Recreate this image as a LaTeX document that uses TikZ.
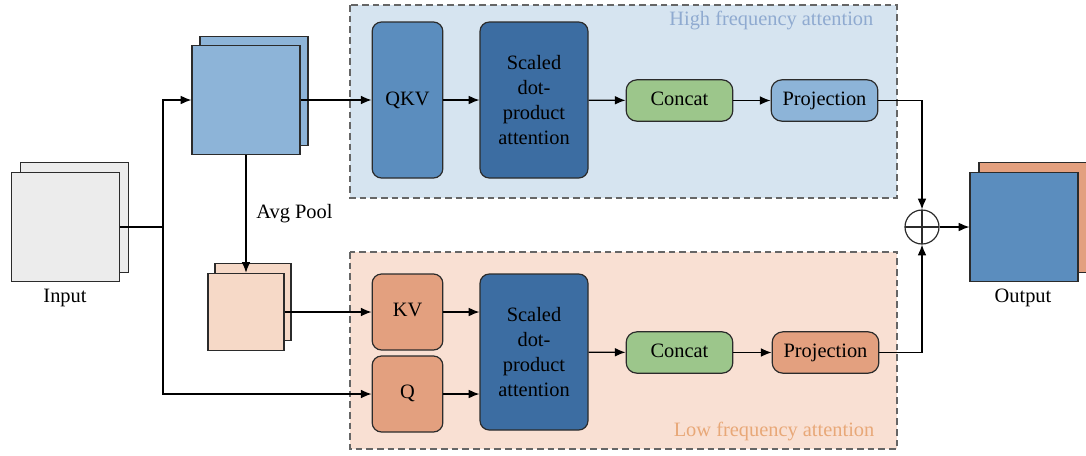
\documentclass[tikz,border=0pt]{standalone}
\usepackage{fontspec}
\setmainfont{Liberation Serif}
\usetikzlibrary{arrows.meta}

\definecolor{inGray}{HTML}{ECECEC}
\definecolor{hiLight}{HTML}{8DB4D8}
\definecolor{hiMid}{HTML}{5B8DBE}
\definecolor{hiDark}{HTML}{3C6DA2}
\definecolor{hiRegion}{HTML}{D6E4F0}
\definecolor{hiText}{HTML}{8FAAD0}
\definecolor{loMid}{HTML}{E3A07F}
\definecolor{loLight}{HTML}{F6D9C7}
\definecolor{loRegion}{HTML}{F9E0D3}
\definecolor{loText}{HTML}{E8A878}
\definecolor{catGreen}{HTML}{9CC68B}
\definecolor{edgeGray}{HTML}{2B2B2B}

\begin{document}
\begin{tikzpicture}[
    x=0.75pt, y=-0.75pt,
    font=\fontsize{15.3}{18.75}\selectfont,
    fmap/.style={draw=edgeGray, line width=0.9pt, minimum width=81pt,
        minimum height=82pt, inner sep=0pt},
    small map/.style={fmap, minimum width=57pt, minimum height=58pt},
    block/.style={draw=edgeGray, line width=0.9pt, rounded corners=7pt,
        align=center, inner sep=0pt},
    tall/.style={block, minimum width=53pt, minimum height=117pt},
    wide/.style={block, minimum width=81pt, minimum height=117pt},
    pill/.style={block, rounded corners=8pt, minimum width=80pt, minimum height=31pt,
        text height=1.5ex, text depth=0pt},
    half/.style={block, minimum width=53pt, minimum height=57pt,
        text height=1.5ex, text depth=0pt},
    region/.style={draw=gray!80!black, line width=1pt, dash pattern=on 5pt off 3pt},
    link/.style={line width=0.9pt, -{Latex[length=8pt,width=6.5pt]}},
    plain/.style={line width=0.9pt}
]
    \useasboundingbox (0,0) rectangle (1086,455);

    \fill[hiRegion] (350,5) rectangle (897,198);
    \draw[region] (350,5) rectangle (897,198);
    \fill[loRegion] (350,252) rectangle (897,449);
    \draw[region] (350,252) rectangle (897,449);
    \node[text=hiText, anchor=east] (hiTitle) at (878,21) {High frequency attention};
    \node[text=loText, anchor=east] (loTitle) at (879,432) {Low frequency attention};

    \node[fmap, fill=inGray] (inB) at (74.5,217.5) {};
    \node[fmap, fill=inGray] (inF) at (65.5,227) {};
    \node (inLabel) at (65,298) {Input};

    \node[fmap, fill=hiLight] (hiB) at (254,91) {};
    \node[fmap, fill=hiLight] (hiF) at (246,100) {};

    \node[small map, fill=loLight] (loB) at (253,302) {};
    \node[small map, fill=loLight] (loF) at (246,312) {};

    \node[tall, fill=hiMid] (QKV) at (407.5,100) {QKV};
    \node[wide, fill=hiDark] (sdpH) at (534,100) {Scaled\\dot-\\product\\attention};
    \node[pill, fill=catGreen] (catH) at (679.5,100.5) {Concat};
    \node[pill, fill=hiLight] (projH) at (824.5,100.5) {Projection};

    \node[half, fill=loMid] (KV) at (407.5,312) {KV};
    \node[half, fill=loMid] (Q) at (407.5,394) {Q};
    \node[wide, fill=hiDark] (sdpL) at (534,352) {Scaled\\dot-\\product\\attention};
    \node[pill, fill=catGreen] (catL) at (679.5,352.5) {Concat};
    \node[pill, fill=loMid] (projL) at (825.5,352.5) {Projection};

    \node[circle, draw=edgeGray, line width=0.9pt, minimum size=25.5pt, inner sep=0pt,
        path picture={\draw[line width=0.9pt]
            (path picture bounding box.north) -- (path picture bounding box.south)
            (path picture bounding box.west) -- (path picture bounding box.east);}]
        (sum) at (922,227) {};

    \node[fmap, fill=loMid] (outB) at (1033,217.5) {};
    \node[fmap, fill=hiMid] (outF) at (1024,227) {};
    \node (outLabel) at (1023,298) {Output};

    \coordinate (split) at (163,227);
    \draw[plain] (inF.east) -- (split);
    \draw[link] (split) |- (hiF.west);
    \draw[link] (split) |- (Q.west);

    \draw[link] (hiF.east) -- (QKV.west);
    \draw[link] (QKV) -- (sdpH);
    \draw[link] (sdpH) -- (catH);
    \draw[link] (catH) -- (projH);
    \draw[link] (projH.east) -| (sum.north);

    \draw[link] (hiF.south) -- (loF.north) node[midway, right=4pt] (pool) {Avg Pool};
    \draw[link] (loF.east) -- (KV.west);
    \draw[link] (KV.east) -- (KV.east -| sdpL.west);
    \draw[link] (Q.east) -- (Q.east -| sdpL.west);
    \draw[link] (sdpL) -- (catL);
    \draw[link] (catL) -- (projL);
    \draw[link] (projL.east) -| (sum.south);

    \draw[link] (sum) -- (outF);
\end{tikzpicture}
\end{document}
